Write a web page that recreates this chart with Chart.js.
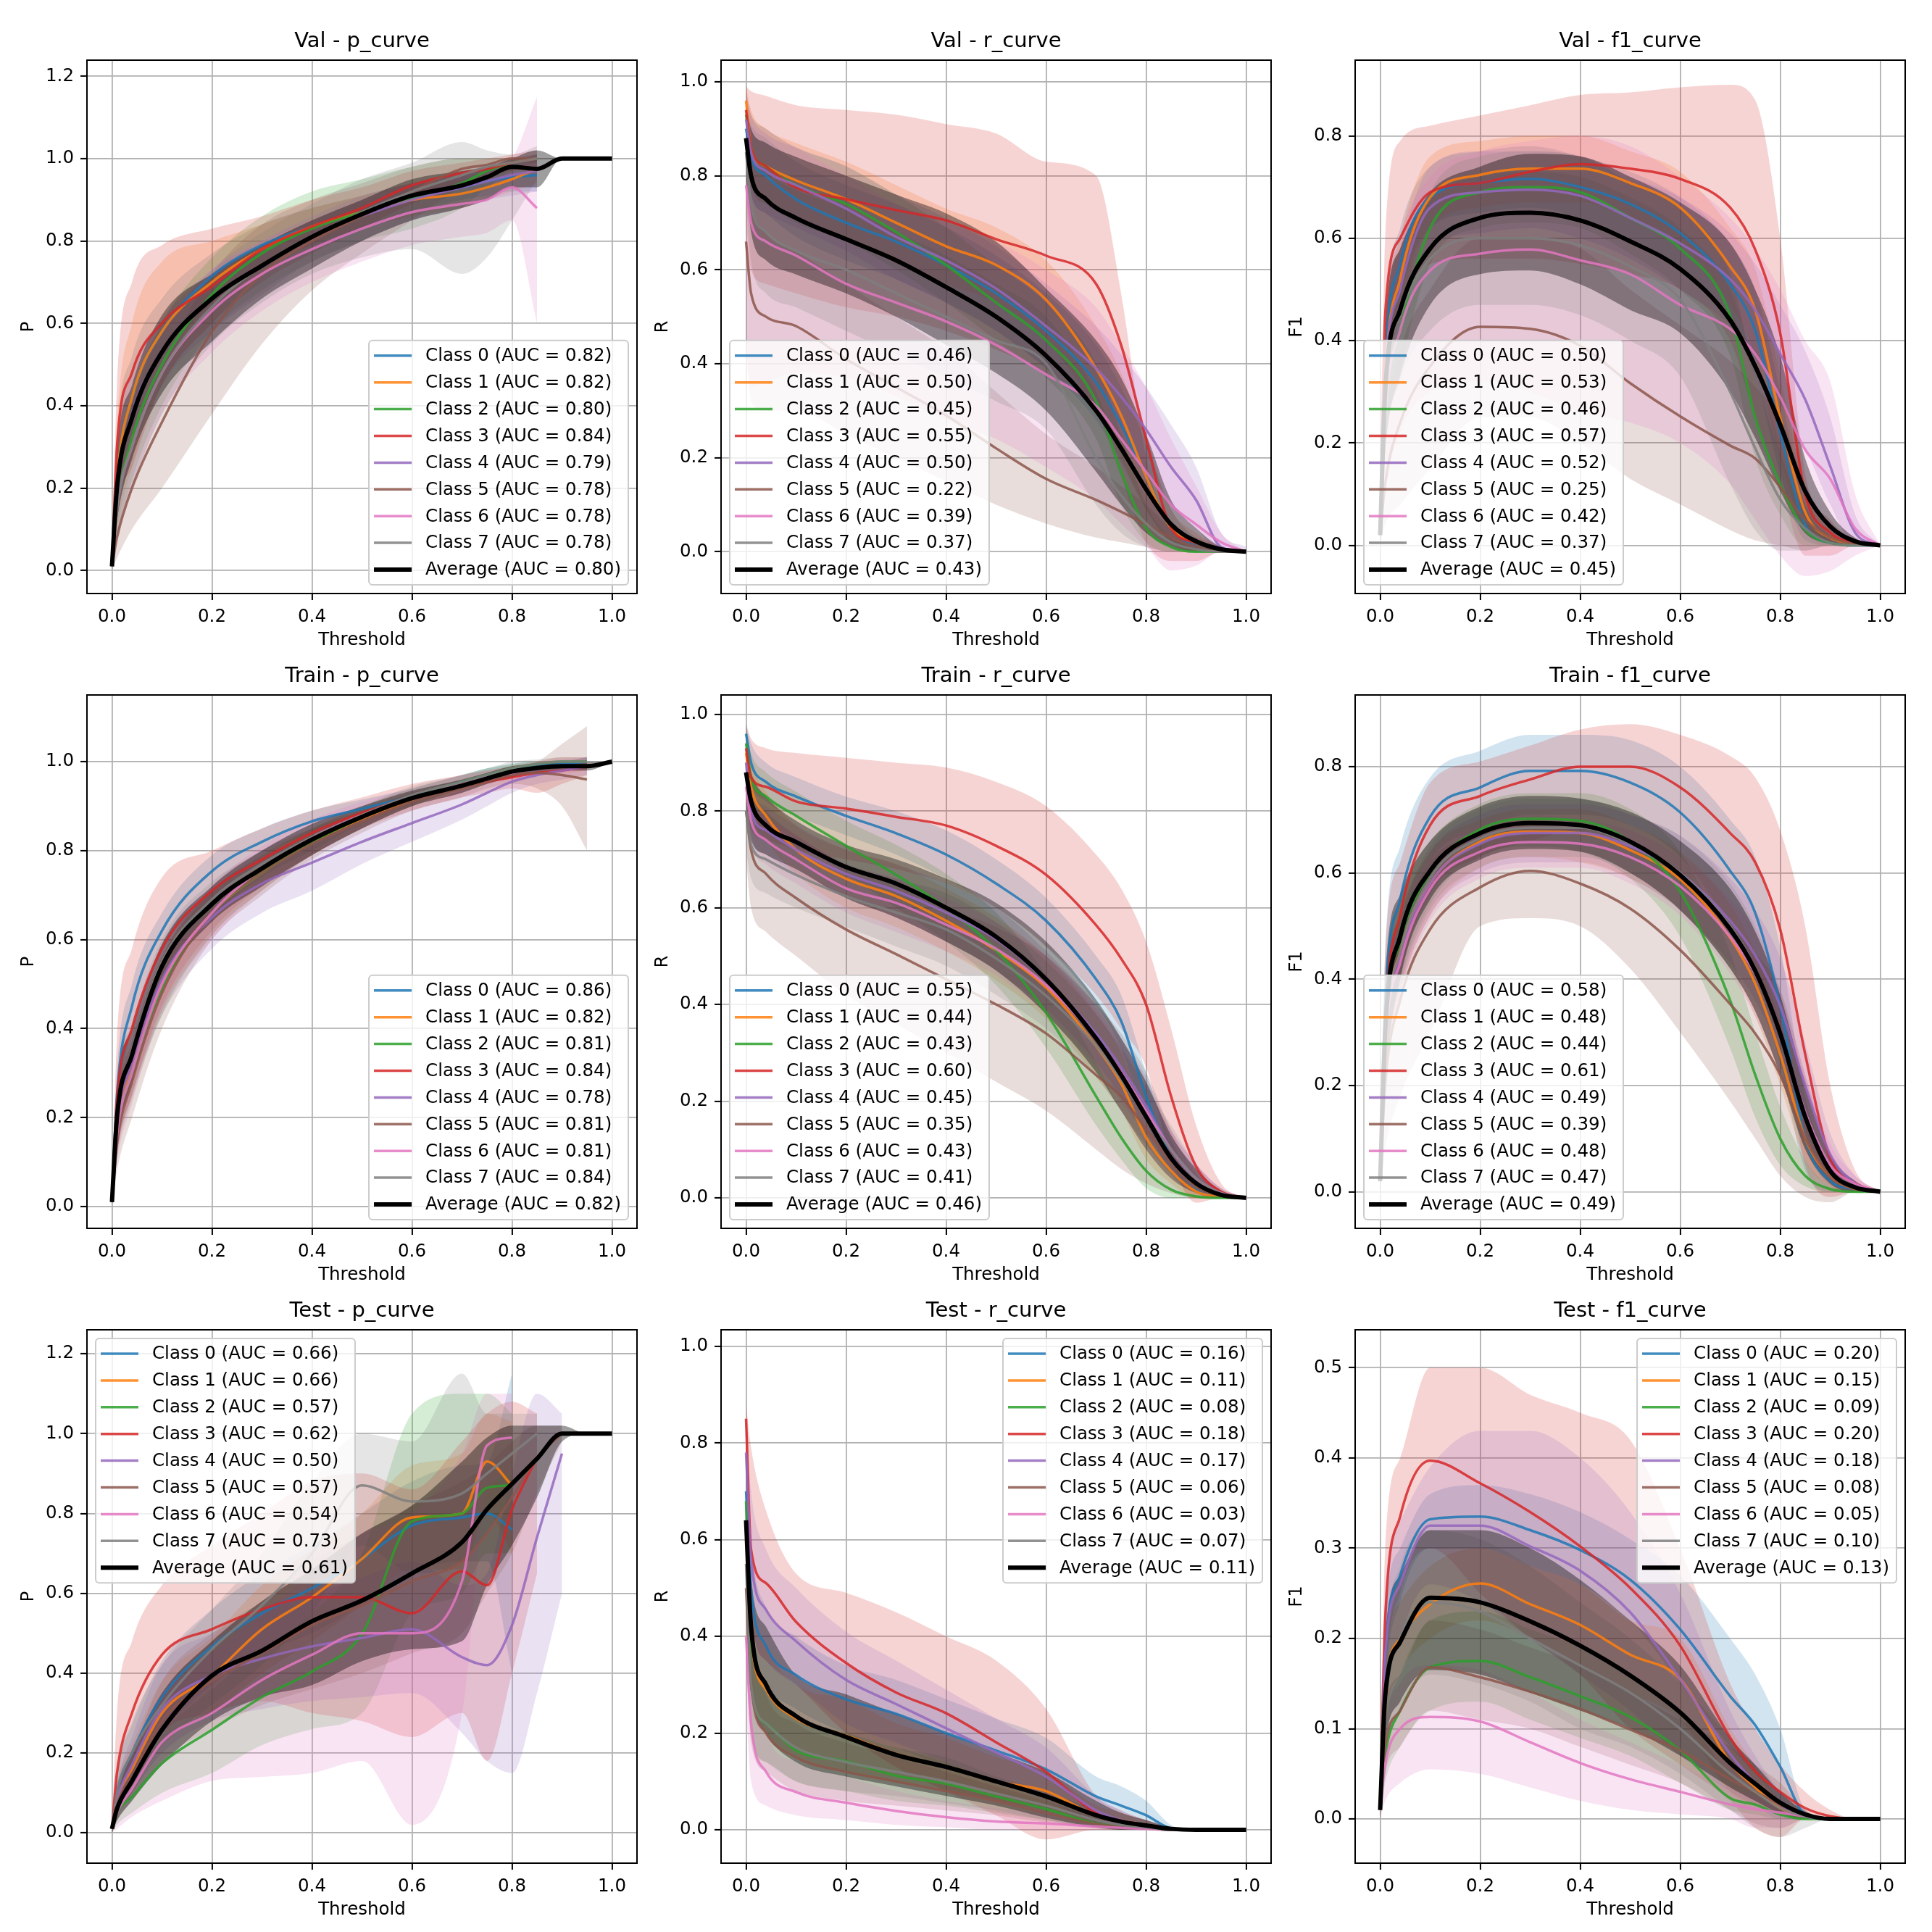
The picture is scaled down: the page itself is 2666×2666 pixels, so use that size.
<!DOCTYPE html>
<html><head><meta charset="utf-8">
<script src="https://cdn.jsdelivr.net/npm/chart.js@4.4.1/dist/chart.umd.min.js"></script>
<style>
html,body{margin:0;padding:0;background:#fff;}
#wrap{position:relative;width:2666px;height:2666px;background:#fff;overflow:hidden;}
canvas{position:absolute;}
</style></head><body><div id="wrap"></div>
<script>
// Threshold sample points shared by every curve
const X = [0,0.01,0.04,0.1,0.2,0.3,0.4,0.5,0.6,0.7,0.75,0.8,0.85,0.9,0.95,1.0];
const X_TICKS = [0,0.2,0.4,0.6,0.8,1.0];
const TICKS_P = [0,0.2,0.4,0.6,0.8,1.0,1.2];
const TICKS_P_TRAIN = [0,0.2,0.4,0.6,0.8,1.0];
const TICKS_R = [0,0.2,0.4,0.6,0.8,1.0];
const TICKS_F1 = [0,0.2,0.4,0.6,0.8];
const TICKS_F1_TEST = [0,0.1,0.2,0.3,0.4,0.5];
const SERIES = ['Class 0','Class 1','Class 2','Class 3','Class 4','Class 5','Class 6','Class 7','Average'];

// ---------- Val p_curve ----------
const valP_auc = [0.82,0.82,0.80,0.84,0.79,0.78,0.78,0.78,0.80];
const valP_mean = [
[0.01,0.22,0.42,0.58,0.715,0.79,0.835,0.87,0.905,0.93,0.945,0.955,0.96],
[0.01,0.22,0.42,0.58,0.70,0.78,0.835,0.87,0.90,0.915,0.93,0.95,0.975],
[0.01,0.15,0.32,0.5,0.67,0.77,0.83,0.87,0.905,0.94,0.97,0.99,1.0],
[0.01,0.3,0.48,0.6,0.69,0.78,0.835,0.88,0.935,0.965,0.975,0.99,1.0],
[0.01,0.2,0.38,0.53,0.66,0.74,0.81,0.86,0.9,0.93,0.945,0.96,0.97],
[0.01,0.08,0.2,0.36,0.58,0.72,0.8,0.86,0.92,0.975,0.985,1.0,1.0],
[0.01,0.15,0.3,0.48,0.63,0.72,0.78,0.83,0.87,0.89,0.9,0.93,0.88],
[0.01,0.15,0.3,0.48,0.64,0.74,0.81,0.87,0.92,0.96,0.98,0.99,1.0],
[0.01,0.2,0.37,0.53,0.66,0.74,0.81,0.865,0.91,0.935,0.955,0.98,0.975,1.0,1.0,1.0]];
const valP_lo = [
[0,0.12,0.32,0.5,0.65,0.74,0.79,0.83,0.87,0.9,0.91,0.92,0.92],
[0,0.1,0.25,0.45,0.6,0.72,0.79,0.83,0.86,0.88,0.9,0.92,0.94],
[0,0.08,0.22,0.4,0.58,0.68,0.75,0.8,0.83,0.88,0.93,0.97,0.99],
[0,0.15,0.25,0.45,0.6,0.7,0.77,0.83,0.89,0.93,0.95,0.97,0.98],
[0,0.12,0.28,0.45,0.58,0.67,0.75,0.8,0.85,0.88,0.9,0.91,0.92],
[0,0.03,0.1,0.2,0.38,0.55,0.68,0.77,0.85,0.93,0.96,0.99,0.99],
[0,0.08,0.2,0.38,0.53,0.63,0.7,0.75,0.79,0.81,0.82,0.85,0.6],
[0,0.08,0.2,0.38,0.55,0.65,0.72,0.76,0.78,0.72,0.76,0.85,0.95],
[0,0.12,0.27,0.43,0.556,0.66,0.733,0.8,0.85,0.88,0.9,0.93,0.93,1.0,1.0,1.0]];
const valP_hi = [
[0.02,0.32,0.52,0.66,0.77,0.84,0.88,0.91,0.94,0.96,0.97,0.99,1.0],
[0.02,0.35,0.6,0.75,0.8,0.84,0.88,0.91,0.94,0.95,0.96,0.98,1.0],
[0.02,0.22,0.42,0.6,0.76,0.86,0.92,0.95,0.98,1.0,1.0,1.0,1.01],
[0.03,0.45,0.7,0.79,0.83,0.86,0.9,0.93,0.97,0.99,1.0,1.01,1.02],
[0.02,0.28,0.48,0.61,0.73,0.8,0.86,0.91,0.94,0.97,0.98,1.0,1.01],
[0.02,0.15,0.32,0.5,0.72,0.84,0.9,0.94,0.98,1.0,1.0,1.0,1.01],
[0.02,0.22,0.4,0.58,0.73,0.8,0.85,0.9,0.94,0.96,0.97,1.0,1.15],
[0.02,0.22,0.4,0.58,0.73,0.82,0.89,0.95,0.99,1.04,1.02,1.01,1.03],
[0.02,0.28,0.45,0.62,0.72,0.79,0.85,0.9,0.95,0.97,0.98,1.0,1.02,1.0,1.0,1.0]];

// ---------- Val r_curve ----------
const valR_auc = [0.46,0.50,0.45,0.55,0.50,0.22,0.39,0.37,0.43];
const valR_mean = [
[0.9,0.84,0.8,0.75,0.7,0.66,0.61,0.55,0.47,0.36,0.27,0.16,0.05,0.01,0,0],
[0.96,0.86,0.82,0.79,0.75,0.7,0.65,0.61,0.536,0.39,0.29,0.16,0.05,0.02,0.005,0],
[0.93,0.86,0.82,0.78,0.74,0.68,0.61,0.53,0.45,0.32,0.17,0.05,0.01,0,0,0],
[0.94,0.86,0.82,0.775,0.75,0.727,0.705,0.665,0.63,0.57,0.44,0.24,0.05,0.02,0.005,0],
[0.92,0.85,0.81,0.78,0.73,0.67,0.62,0.56,0.48,0.39,0.33,0.26,0.18,0.11,0.01,0],
[0.66,0.55,0.5,0.48,0.41,0.35,0.29,0.22,0.155,0.11,0.085,0.058,0.03,0.01,0,0],
[0.78,0.7,0.66,0.63,0.57,0.53,0.49,0.44,0.377,0.31,0.24,0.17,0.1,0.058,0.02,0],
[0.85,0.74,0.68,0.64,0.6,0.55,0.5,0.45,0.4,0.2,0.12,0.06,0.02,0.005,0,0],
[0.88,0.8,0.75,0.71,0.665,0.62,0.563,0.5,0.417,0.3,0.22,0.133,0.058,0.022,0.005,0]];
const valR_lo = [
[0.84,0.76,0.72,0.67,0.62,0.58,0.53,0.47,0.39,0.28,0.19,0.09,0.02,0,0,0],
[0.9,0.78,0.74,0.71,0.67,0.62,0.57,0.53,0.45,0.3,0.2,0.09,0.02,0,0,0],
[0.87,0.78,0.74,0.7,0.66,0.6,0.53,0.45,0.37,0.24,0.1,0.02,0,0,0,0],
[0.7,0.6,0.57,0.55,0.52,0.5,0.47,0.43,0.38,0.3,0.16,0.02,-0.02,-0.02,0,0],
[0.85,0.76,0.72,0.69,0.64,0.58,0.53,0.47,0.39,0.3,0.24,0.17,0.1,0.05,0,0],
[0.45,0.32,0.3,0.3,0.25,0.2,0.15,0.1,0.06,0.03,0.02,0.01,0,0,0,0],
[0.4,0.35,0.36,0.38,0.37,0.33,0.28,0.24,0.18,0.11,0.06,0.01,-0.04,-0.03,0,0],
[0.75,0.62,0.55,0.52,0.47,0.42,0.37,0.32,0.26,0.1,0.04,0.01,0,0,0,0],
[0.8,0.68,0.62,0.59,0.55,0.5,0.44,0.38,0.3,0.17,0.1,0.04,0.01,0,0,0]];
const valR_hi = [
[0.95,0.91,0.88,0.83,0.78,0.74,0.69,0.63,0.55,0.44,0.35,0.23,0.09,0.03,0.01,0],
[0.99,0.94,0.9,0.87,0.83,0.78,0.73,0.69,0.62,0.48,0.38,0.24,0.09,0.04,0.01,0],
[0.97,0.93,0.9,0.86,0.82,0.76,0.69,0.61,0.53,0.4,0.25,0.1,0.03,0.01,0,0],
[0.99,0.98,0.97,0.95,0.94,0.93,0.91,0.89,0.83,0.8,0.55,0.2,0.05,0.03,0.01,0],
[0.98,0.93,0.89,0.86,0.82,0.76,0.71,0.65,0.57,0.48,0.42,0.35,0.27,0.18,0.04,0.01],
[0.85,0.75,0.68,0.64,0.57,0.5,0.43,0.34,0.25,0.18,0.14,0.1,0.05,0.02,0.01,0],
[0.98,0.93,0.9,0.86,0.8,0.74,0.7,0.66,0.6,0.52,0.44,0.35,0.24,0.14,0.04,0],
[0.93,0.86,0.81,0.77,0.73,0.68,0.63,0.57,0.5,0.34,0.21,0.12,0.05,0.02,0,0],
[0.95,0.9,0.87,0.84,0.8,0.76,0.72,0.66,0.56,0.45,0.37,0.25,0.11,0.05,0.01,0]];

// ---------- Val f1_curve ----------
const valF1_auc = [0.50,0.53,0.46,0.57,0.52,0.25,0.42,0.37,0.45];
const valF1_mean = [
[0.02,0.35,0.55,0.68,0.708,0.716,0.70,0.667,0.61,0.51,0.42,0.22,0.04,0.005,0,0],
[0.02,0.32,0.52,0.68,0.724,0.736,0.736,0.708,0.66,0.545,0.46,0.25,0.065,0.015,0.005,0],
[0.02,0.25,0.42,0.62,0.69,0.70,0.69,0.64,0.58,0.45,0.25,0.12,0.03,0.005,0,0],
[0.02,0.45,0.6,0.69,0.708,0.73,0.745,0.736,0.716,0.66,0.578,0.415,0.1,0.025,0.005,0],
[0.02,0.32,0.5,0.66,0.69,0.695,0.683,0.64,0.59,0.52,0.46,0.374,0.285,0.155,0.025,0],
[0.02,0.12,0.24,0.35,0.427,0.423,0.39,0.317,0.252,0.195,0.17,0.114,0.05,0.016,0.003,0],
[0.02,0.25,0.42,0.537,0.57,0.578,0.557,0.53,0.47,0.423,0.374,0.29,0.187,0.13,0.033,0],
[0.02,0.3,0.45,0.56,0.6,0.6,0.586,0.545,0.48,0.3,0.19,0.09,0.033,0.005,0,0],
[0.02,0.3,0.46,0.58,0.64,0.65,0.635,0.594,0.54,0.44,0.35,0.236,0.106,0.037,0.008,0]];
const valF1_lo = [
[0,0.28,0.48,0.62,0.65,0.66,0.64,0.6,0.54,0.43,0.33,0.14,0.01,0,0,0],
[0,0.25,0.45,0.62,0.66,0.67,0.67,0.64,0.59,0.47,0.37,0.17,0.03,0,0,0],
[0,0.18,0.34,0.55,0.62,0.63,0.62,0.57,0.5,0.37,0.17,0.06,0,0,0,0],
[0,0.3,0.45,0.55,0.56,0.56,0.55,0.53,0.5,0.4,0.25,0.12,-0.02,-0.02,0,0],
[0,0.24,0.42,0.58,0.61,0.62,0.6,0.56,0.5,0.43,0.37,0.28,0.19,0.08,0,0],
[0,0.04,0.08,0.15,0.25,0.25,0.2,0.13,0.08,0.03,0.01,0,-0.01,0,0,0],
[0,0.1,0.22,0.3,0.32,0.3,0.26,0.24,0.2,0.12,0.05,-0.02,-0.06,-0.05,-0.02,0],
[0,0.18,0.32,0.42,0.47,0.47,0.45,0.4,0.33,0.12,0.03,-0.01,-0.01,0,0,0],
[0,0.18,0.33,0.47,0.53,0.537,0.51,0.46,0.415,0.3,0.21,0.106,0.024,0.005,0,0]];
const valF1_hi = [
[0.04,0.42,0.62,0.74,0.77,0.78,0.76,0.73,0.68,0.59,0.5,0.3,0.08,0.02,0,0],
[0.04,0.4,0.6,0.76,0.79,0.8,0.8,0.77,0.73,0.62,0.54,0.33,0.11,0.03,0.01,0],
[0.04,0.32,0.5,0.69,0.76,0.77,0.76,0.71,0.66,0.53,0.33,0.18,0.06,0.01,0,0],
[0.05,0.6,0.79,0.82,0.84,0.86,0.88,0.885,0.895,0.9,0.87,0.6,0.14,0.05,0.01,0],
[0.04,0.4,0.58,0.74,0.77,0.77,0.76,0.72,0.68,0.61,0.55,0.47,0.38,0.25,0.06,0],
[0.04,0.22,0.38,0.5,0.6,0.6,0.58,0.5,0.43,0.36,0.31,0.25,0.12,0.04,0.01,0],
[0.04,0.4,0.6,0.72,0.77,0.79,0.8,0.78,0.72,0.64,0.58,0.5,0.4,0.32,0.1,0],
[0.04,0.42,0.58,0.68,0.72,0.73,0.72,0.68,0.62,0.5,0.35,0.2,0.08,0.02,0,0],
[0.04,0.42,0.58,0.69,0.74,0.765,0.76,0.72,0.67,0.59,0.5,0.37,0.17,0.065,0.015,0]];

// ---------- Train p_curve ----------
const trainP_auc = [0.86,0.82,0.81,0.84,0.78,0.81,0.81,0.84,0.82];
const trainP_mean = [
[0.01,0.25,0.45,0.62,0.754,0.82,0.866,0.894,0.922,0.955,0.97,0.983,0.99,0.995,1.0],
[0.01,0.17,0.31,0.5,0.66,0.75,0.82,0.872,0.915,0.947,0.962,0.978,0.986,0.99,0.99],
[0.01,0.16,0.3,0.49,0.66,0.75,0.82,0.874,0.92,0.955,0.97,0.985,0.995,1.0,1.0],
[0.01,0.24,0.4,0.58,0.71,0.78,0.84,0.885,0.92,0.945,0.955,0.965,0.975,0.98,0.99],
[0.01,0.18,0.32,0.51,0.65,0.726,0.773,0.82,0.862,0.904,0.93,0.955,0.97,0.98,0.99],
[0.01,0.14,0.28,0.48,0.66,0.75,0.815,0.865,0.91,0.94,0.955,0.97,0.975,0.97,0.96],
[0.01,0.16,0.3,0.5,0.66,0.76,0.83,0.88,0.92,0.95,0.965,0.975,0.985,0.99,0.99],
[0.01,0.2,0.35,0.55,0.69,0.77,0.83,0.88,0.925,0.955,0.97,0.985,0.995,1.0,1.0],
[0.01,0.2,0.34,0.54,0.68,0.76,0.825,0.876,0.918,0.946,0.962,0.978,0.986,0.99,0.99,1.0]];
const trainP_lo = [
[0,0.2,0.4,0.58,0.72,0.79,0.84,0.87,0.9,0.94,0.955,0.97,0.98,0.985,0.99],
[0,0.12,0.25,0.44,0.61,0.71,0.79,0.85,0.9,0.93,0.95,0.965,0.975,0.975,0.98],
[0,0.11,0.24,0.43,0.61,0.71,0.79,0.85,0.9,0.94,0.955,0.975,0.985,0.99,0.99],
[0,0.12,0.25,0.45,0.62,0.72,0.79,0.85,0.89,0.92,0.93,0.94,0.93,0.95,0.97],
[0,0.12,0.25,0.43,0.58,0.66,0.71,0.77,0.82,0.87,0.9,0.93,0.95,0.96,0.97],
[0,0.08,0.2,0.4,0.6,0.7,0.78,0.84,0.89,0.92,0.94,0.95,0.94,0.9,0.8],
[0,0.1,0.23,0.44,0.6,0.71,0.79,0.85,0.9,0.93,0.95,0.96,0.97,0.975,0.98],
[0,0.14,0.29,0.5,0.65,0.74,0.8,0.86,0.905,0.94,0.955,0.97,0.98,0.985,0.985],
[0,0.14,0.28,0.49,0.64,0.72,0.79,0.85,0.9,0.93,0.95,0.965,0.975,0.98,0.98,1.0]];
const trainP_hi = [
[0.02,0.3,0.5,0.66,0.79,0.85,0.89,0.915,0.94,0.97,0.985,0.995,1.0,1.0,1.01],
[0.02,0.22,0.37,0.56,0.71,0.79,0.85,0.895,0.93,0.96,0.975,0.99,0.995,1.0,1.0],
[0.02,0.21,0.36,0.55,0.71,0.79,0.85,0.9,0.94,0.97,0.985,0.995,1.0,1.0,1.01],
[0.03,0.38,0.58,0.74,0.8,0.85,0.89,0.92,0.95,0.97,0.98,0.99,1.0,1.01,1.01],
[0.02,0.24,0.39,0.59,0.72,0.79,0.83,0.87,0.9,0.935,0.955,0.975,0.99,1.0,1.01],
[0.02,0.2,0.36,0.56,0.72,0.8,0.85,0.89,0.93,0.96,0.97,0.985,1.0,1.04,1.08],
[0.02,0.22,0.37,0.56,0.72,0.81,0.87,0.91,0.94,0.97,0.98,0.99,1.0,1.005,1.01],
[0.02,0.26,0.41,0.6,0.73,0.8,0.86,0.9,0.945,0.97,0.985,1.0,1.005,1.01,1.01],
[0.02,0.26,0.4,0.59,0.72,0.8,0.86,0.9,0.935,0.96,0.975,0.99,0.995,1.0,1.0,1.0]];

// ---------- Train r_curve ----------
const trainR_auc = [0.55,0.44,0.43,0.60,0.45,0.35,0.43,0.41,0.46];
const trainR_mean = [
[0.96,0.9,0.86,0.83,0.79,0.754,0.71,0.65,0.573,0.452,0.366,0.21,0.082,0.02,0.005,0],
[0.92,0.85,0.79,0.72,0.66,0.624,0.573,0.512,0.435,0.314,0.237,0.125,0.056,0.013,0.003,0],
[0.94,0.87,0.83,0.79,0.728,0.668,0.6,0.512,0.383,0.21,0.125,0.056,0.017,0.003,0,0],
[0.93,0.87,0.85,0.82,0.805,0.788,0.77,0.728,0.668,0.564,0.495,0.4,0.21,0.065,0.013,0],
[0.9,0.8,0.76,0.72,0.67,0.635,0.59,0.535,0.45,0.34,0.27,0.19,0.1,0.04,0.01,0],
[0.8,0.72,0.67,0.62,0.555,0.504,0.452,0.4,0.34,0.254,0.21,0.142,0.073,0.022,0.005,0],
[0.85,0.78,0.74,0.7,0.64,0.61,0.565,0.515,0.44,0.33,0.26,0.18,0.1,0.04,0.01,0],
[0.8,0.73,0.7,0.668,0.624,0.59,0.555,0.495,0.418,0.314,0.245,0.168,0.1,0.04,0.01,0],
[0.88,0.82,0.77,0.736,0.684,0.65,0.6,0.54,0.452,0.33,0.254,0.168,0.082,0.03,0.006,0]];
const trainR_lo = [
[0.92,0.86,0.82,0.79,0.75,0.71,0.66,0.6,0.52,0.4,0.31,0.16,0.05,0.01,0,0],
[0.88,0.8,0.74,0.67,0.6,0.56,0.51,0.45,0.37,0.25,0.18,0.08,0.03,0,0,0],
[0.9,0.82,0.78,0.74,0.67,0.6,0.53,0.44,0.31,0.15,0.08,0.02,0,0,0,0],
[0.85,0.76,0.74,0.72,0.7,0.68,0.65,0.6,0.52,0.42,0.35,0.27,0.08,-0.01,0,0],
[0.85,0.75,0.71,0.67,0.62,0.58,0.53,0.47,0.39,0.28,0.21,0.13,0.06,0.02,0,0],
[0.7,0.6,0.55,0.5,0.42,0.36,0.3,0.24,0.18,0.1,0.06,0.03,0.01,0,0,0],
[0.8,0.73,0.69,0.65,0.59,0.55,0.51,0.46,0.38,0.27,0.2,0.13,0.06,0.02,0,0],
[0.72,0.66,0.63,0.6,0.56,0.52,0.48,0.42,0.35,0.25,0.18,0.11,0.05,0.02,0,0],
[0.8,0.74,0.71,0.68,0.62,0.58,0.53,0.47,0.38,0.26,0.18,0.1,0.04,0.01,0,0]];
const trainR_hi = [
[0.98,0.94,0.9,0.87,0.83,0.8,0.76,0.7,0.62,0.5,0.42,0.26,0.12,0.04,0.01,0],
[0.95,0.9,0.84,0.77,0.72,0.69,0.64,0.58,0.5,0.38,0.3,0.17,0.08,0.03,0.01,0],
[0.97,0.92,0.88,0.84,0.78,0.73,0.67,0.59,0.46,0.28,0.18,0.1,0.04,0.01,0,0],
[0.98,0.95,0.93,0.92,0.91,0.9,0.89,0.86,0.81,0.71,0.64,0.53,0.35,0.15,0.03,0],
[0.95,0.85,0.81,0.77,0.72,0.69,0.65,0.6,0.51,0.4,0.33,0.25,0.14,0.07,0.02,0],
[0.9,0.84,0.8,0.75,0.69,0.65,0.6,0.56,0.5,0.4,0.34,0.26,0.14,0.05,0.01,0],
[0.9,0.83,0.79,0.75,0.69,0.66,0.62,0.57,0.5,0.39,0.32,0.23,0.14,0.07,0.02,0],
[0.88,0.8,0.77,0.73,0.69,0.66,0.63,0.57,0.49,0.38,0.31,0.23,0.15,0.07,0.02,0],
[0.93,0.88,0.83,0.78,0.73,0.7,0.66,0.61,0.53,0.41,0.33,0.24,0.13,0.06,0.015,0]];

// ---------- Train f1_curve ----------
const trainF1_auc = [0.58,0.48,0.44,0.61,0.49,0.39,0.48,0.47,0.49];
const trainF1_mean = [
[0.02,0.35,0.55,0.706,0.761,0.792,0.792,0.77,0.714,0.604,0.525,0.35,0.1,0.02,0.005,0],
[0.02,0.28,0.45,0.58,0.659,0.678,0.675,0.643,0.588,0.478,0.392,0.259,0.1,0.03,0.005,0],
[0.02,0.3,0.47,0.6,0.682,0.702,0.698,0.659,0.565,0.36,0.22,0.1,0.03,0.005,0,0],
[0.02,0.32,0.52,0.69,0.745,0.776,0.8,0.8,0.761,0.675,0.62,0.494,0.259,0.063,0.016,0],
[0.02,0.27,0.44,0.58,0.655,0.675,0.675,0.65,0.6,0.51,0.445,0.35,0.2,0.07,0.015,0],
[0.02,0.2,0.36,0.494,0.573,0.604,0.58,0.533,0.455,0.353,0.298,0.22,0.1,0.03,0.005,0],
[0.02,0.27,0.43,0.57,0.64,0.658,0.655,0.63,0.575,0.48,0.41,0.3,0.15,0.05,0.015,0],
[0.02,0.28,0.45,0.59,0.665,0.685,0.685,0.655,0.6,0.5,0.42,0.3,0.14,0.04,0.01,0],
[0.02,0.3,0.48,0.604,0.675,0.694,0.69,0.659,0.596,0.494,0.416,0.298,0.141,0.039,0.008,0]];
const trainF1_lo = [
[0,0.26,0.45,0.62,0.68,0.71,0.71,0.69,0.63,0.5,0.41,0.24,0.04,0,0,0],
[0,0.2,0.37,0.52,0.61,0.63,0.62,0.59,0.53,0.42,0.33,0.2,0.06,0.01,0,0],
[0,0.22,0.39,0.54,0.63,0.65,0.64,0.59,0.48,0.27,0.14,0.05,0.01,0,0,0],
[0,0.2,0.4,0.56,0.63,0.66,0.68,0.66,0.6,0.5,0.42,0.3,0.05,-0.01,0,0],
[0,0.2,0.37,0.52,0.6,0.62,0.62,0.59,0.53,0.43,0.36,0.26,0.12,0.03,0,0],
[0,0.08,0.18,0.3,0.5,0.515,0.5,0.42,0.3,0.17,0.1,0.03,-0.01,-0.02,0,0],
[0,0.2,0.36,0.51,0.59,0.61,0.61,0.58,0.52,0.41,0.33,0.22,0.09,0.02,0,0],
[0,0.2,0.38,0.53,0.61,0.63,0.63,0.6,0.53,0.42,0.34,0.22,0.08,0.01,0,0],
[0,0.2,0.4,0.55,0.625,0.645,0.64,0.6,0.53,0.42,0.34,0.22,0.08,0.015,0,0]];
const trainF1_hi = [
[0.04,0.45,0.65,0.78,0.83,0.86,0.86,0.85,0.8,0.7,0.63,0.46,0.18,0.05,0.01,0],
[0.04,0.35,0.52,0.64,0.7,0.72,0.72,0.69,0.64,0.54,0.45,0.32,0.15,0.05,0.01,0],
[0.04,0.38,0.55,0.66,0.73,0.75,0.75,0.72,0.64,0.45,0.3,0.16,0.06,0.01,0,0],
[0.04,0.45,0.62,0.77,0.81,0.84,0.87,0.88,0.86,0.82,0.78,0.68,0.5,0.2,0.04,0],
[0.04,0.34,0.51,0.64,0.71,0.73,0.73,0.71,0.67,0.59,0.53,0.44,0.28,0.11,0.03,0],
[0.04,0.3,0.48,0.62,0.67,0.7,0.69,0.65,0.59,0.5,0.45,0.38,0.22,0.07,0.01,0],
[0.04,0.34,0.5,0.63,0.69,0.71,0.7,0.68,0.63,0.55,0.49,0.38,0.22,0.09,0.03,0],
[0.04,0.36,0.52,0.65,0.72,0.74,0.74,0.71,0.67,0.58,0.5,0.38,0.2,0.07,0.02,0],
[0.04,0.4,0.56,0.66,0.725,0.745,0.74,0.715,0.66,0.57,0.49,0.37,0.2,0.07,0.02,0]];

// ---------- Test p_curve ----------
const testP_auc = [0.66,0.66,0.57,0.62,0.50,0.57,0.54,0.73,0.61];
const testP_mean = [
[0.01,0.1,0.2,0.34,0.467,0.55,0.613,0.686,0.77,0.79,0.8,0.76],
[0.01,0.08,0.16,0.3,0.394,0.51,0.59,0.686,0.79,0.8,0.93,0.87],
[0.01,0.05,0.09,0.174,0.258,0.34,0.404,0.498,0.78,0.8,0.864,0.87],
[0.01,0.15,0.3,0.446,0.51,0.56,0.59,0.59,0.55,0.655,0.62,0.81,0.94],
[0.01,0.08,0.17,0.31,0.394,0.436,0.467,0.488,0.51,0.44,0.42,0.52,0.74,0.95],
[0.01,0.07,0.14,0.28,0.38,0.45,0.52,0.57,0.63,0.68,0.75,0.84,0.94,1.0],
[0.01,0.05,0.11,0.227,0.3,0.383,0.446,0.5,0.5,0.63,0.97,0.99],
[0.01,0.1,0.2,0.32,0.46,0.57,0.7,0.87,0.83,0.85,0.9,0.95,1.0],
[0.01,0.06,0.13,0.258,0.394,0.456,0.53,0.582,0.65,0.728,0.81,0.874,0.937,1.0,1.0,1.0]];
const testP_lo = [
[0,0.05,0.13,0.25,0.37,0.45,0.5,0.57,0.65,0.68,0.68,0.4],
[0,0.04,0.1,0.22,0.3,0.4,0.48,0.57,0.66,0.66,0.8,0.7],
[0,0.02,0.05,0.1,0.15,0.22,0.26,0.3,0.55,0.6,0.7,0.7],
[0,0.05,0.12,0.25,0.3,0.33,0.3,0.28,0.24,0.3,0.18,0.4,0.65],
[0,0.04,0.1,0.2,0.28,0.31,0.33,0.34,0.35,0.25,0.18,0.15,0.35,0.6],
[0,0.03,0.08,0.18,0.26,0.32,0.36,0.4,0.45,0.5,0.6,0.7,0.85,0.98],
[0,0.01,0.04,0.08,0.13,0.14,0.15,0.18,0.02,0.3,0.85,0.9],
[0,0.05,0.12,0.22,0.32,0.42,0.55,0.72,0.65,0.68,0.75,0.85,0.95],
[0,0.03,0.08,0.17,0.28,0.34,0.37,0.43,0.46,0.48,0.62,0.72,0.84,0.98,1.0,1.0]];
const testP_hi = [
[0.02,0.15,0.27,0.43,0.56,0.65,0.72,0.8,0.88,0.92,0.93,1.15],
[0.02,0.12,0.22,0.38,0.49,0.62,0.71,0.8,0.92,0.95,1.05,1.03],
[0.02,0.08,0.14,0.25,0.36,0.46,0.55,0.7,1.05,1.1,1.1,1.05],
[0.02,0.3,0.48,0.62,0.72,0.8,0.88,0.9,0.86,0.98,1.05,1.08,1.05],
[0.02,0.12,0.24,0.42,0.5,0.56,0.6,0.64,0.68,0.62,0.65,0.9,1.1,1.05],
[0.02,0.11,0.2,0.38,0.5,0.58,0.68,0.75,0.82,0.88,0.92,0.98,1.02,1.02],
[0.02,0.1,0.2,0.35,0.45,0.55,0.65,0.75,0.8,0.95,1.1,1.1],
[0.02,0.15,0.28,0.42,0.56,0.7,0.88,1.0,0.98,1.15,1.05,1.05,1.05],
[0.02,0.1,0.2,0.35,0.48,0.58,0.66,0.75,0.82,0.93,0.99,1.02,1.02,1.02,1.0,1.0]];

// ---------- Test r_curve ----------
const testR_auc = [0.16,0.11,0.08,0.18,0.17,0.06,0.03,0.07,0.11];
const testR_mean = [
[0.7,0.5,0.38,0.32,0.27,0.24,0.2,0.164,0.125,0.069,0.05,0.03,0.003,0,0,0],
[0.62,0.4,0.29,0.23,0.195,0.157,0.13,0.1,0.08,0.03,0.02,0.01,0.003,0,0,0],
[0.68,0.3,0.22,0.164,0.142,0.112,0.095,0.069,0.043,0.013,0.006,0.003,0,0,0,0],
[0.85,0.58,0.51,0.43,0.345,0.284,0.241,0.181,0.12,0.034,0.018,0.008,0.002,0,0,0],
[0.78,0.56,0.455,0.39,0.31,0.26,0.21,0.16,0.11,0.04,0.02,0.01,0.002,0,0,0],
[0.5,0.3,0.2,0.15,0.12,0.1,0.08,0.06,0.035,0.012,0.006,0.003,0,0,0,0],
[0.4,0.22,0.12,0.078,0.056,0.039,0.026,0.017,0.013,0.007,0.004,0.002,0,0,0,0],
[0.55,0.3,0.22,0.17,0.14,0.12,0.1,0.075,0.05,0.02,0.01,0.005,0,0,0,0],
[0.64,0.42,0.3,0.235,0.192,0.155,0.13,0.1,0.069,0.03,0.017,0.009,0.002,0,0,0]];
const testR_lo = [
[0.6,0.4,0.3,0.25,0.2,0.17,0.13,0.1,0.07,0.03,0.02,0.01,0,0,0,0],
[0.5,0.3,0.2,0.15,0.12,0.1,0.08,0.06,0.04,0.01,0.005,0,0,0,0,0],
[0.55,0.2,0.14,0.1,0.08,0.06,0.05,0.035,0.02,0.003,0,0,0,0,0,0],
[0.8,0.45,0.35,0.3,0.2,0.13,0.08,0.03,-0.02,0,0,0,0,0,0,0],
[0.7,0.45,0.35,0.3,0.22,0.18,0.14,0.1,0.06,0.015,0.005,0,0,0,0,0],
[0.35,0.18,0.12,0.08,0.06,0.05,0.04,0.03,0.015,0.004,0,0,0,0,0,0],
[0.25,0.1,0.05,0.03,0.02,0.01,0.005,0,0,0,0,0,0,0,0,0],
[0.4,0.2,0.14,0.1,0.08,0.07,0.055,0.04,0.02,0.005,0,0,0,0,0,0],
[0.5,0.3,0.2,0.14,0.11,0.09,0.07,0.05,0.025,0.005,0,0,0,0,0,0]];
const testR_hi = [
[0.8,0.6,0.46,0.4,0.34,0.31,0.27,0.23,0.19,0.11,0.09,0.06,0.01,0,0,0],
[0.72,0.5,0.38,0.3,0.27,0.22,0.19,0.15,0.12,0.05,0.035,0.02,0.005,0,0,0],
[0.8,0.4,0.3,0.23,0.2,0.17,0.14,0.1,0.07,0.025,0.012,0.006,0,0,0,0],
[0.88,0.79,0.66,0.53,0.49,0.45,0.4,0.35,0.25,0.07,0.04,0.02,0.005,0,0,0],
[0.85,0.7,0.58,0.5,0.41,0.35,0.29,0.23,0.17,0.07,0.04,0.02,0.005,0,0,0],
[0.65,0.42,0.28,0.22,0.18,0.15,0.12,0.09,0.06,0.025,0.012,0.006,0,0,0,0],
[0.55,0.35,0.2,0.14,0.11,0.08,0.06,0.045,0.035,0.018,0.01,0.005,0,0,0,0],
[0.7,0.42,0.3,0.24,0.2,0.17,0.15,0.11,0.08,0.04,0.02,0.01,0,0,0,0],
[0.75,0.52,0.42,0.32,0.28,0.24,0.2,0.16,0.12,0.06,0.035,0.02,0.005,0,0,0]];

// ---------- Test f1_curve ----------
const testF1_auc = [0.20,0.15,0.09,0.20,0.18,0.08,0.05,0.10,0.13];
const testF1_mean = [
[0.01,0.18,0.27,0.332,0.335,0.32,0.298,0.265,0.21,0.136,0.104,0.058,0.005,0,0,0],
[0.01,0.14,0.2,0.238,0.261,0.238,0.215,0.182,0.155,0.062,0.035,0.012,0.003,0,0,0],
[0.01,0.07,0.12,0.168,0.175,0.157,0.136,0.113,0.076,0.023,0.016,0.005,0,0,0,0],
[0.01,0.22,0.335,0.397,0.372,0.34,0.302,0.256,0.192,0.09,0.053,0.03,0.012,0.003,0,0],
[0.01,0.18,0.26,0.325,0.325,0.302,0.275,0.229,0.155,0.072,0.04,0.016,0.003,0,0,0],
[0.01,0.08,0.12,0.168,0.157,0.141,0.122,0.099,0.076,0.044,0.03,0.016,0.005,0,0,0],
[0.01,0.06,0.1,0.113,0.108,0.085,0.062,0.044,0.03,0.016,0.011,0.007,0.003,0,0,0],
[0.01,0.12,0.2,0.24,0.23,0.2,0.17,0.14,0.1,0.05,0.03,0.012,0.003,0,0,0],
[0.01,0.136,0.196,0.245,0.24,0.219,0.192,0.159,0.118,0.062,0.039,0.018,0.005,0,0,0]];
const testF1_lo = [
[0,0.14,0.24,0.3,0.3,0.28,0.26,0.22,0.15,0.08,0.05,0.02,0,0,0,0],
[0,0.1,0.16,0.2,0.22,0.2,0.17,0.14,0.11,0.03,0.015,0.005,0,0,0,0],
[0,0.04,0.08,0.12,0.13,0.11,0.09,0.07,0.04,0.01,0.005,0,0,0,0,0],
[0,0.15,0.25,0.3,0.25,0.2,0.16,0.1,0.06,0.02,-0.01,-0.02,0,0,0,0],
[0,0.12,0.2,0.26,0.24,0.2,0.16,0.12,0.07,0.03,0.015,0,0,0,0,0],
[0,0.05,0.08,0.12,0.11,0.1,0.08,0.06,0.04,0.01,-0.005,-0.01,0,0,0,0],
[0,0.02,0.04,0.055,0.05,0.035,0.02,0.01,0.005,0,-0.01,-0.01,0,0,0,0],
[0,0.06,0.12,0.16,0.15,0.13,0.1,0.08,0.05,0.01,-0.01,-0.02,-0.01,0,0,0],
[0,0.08,0.13,0.165,0.16,0.14,0.12,0.1,0.07,0.035,0.02,0.006,0,0,0,0]];
const testF1_hi = [
[0.02,0.22,0.3,0.36,0.37,0.36,0.34,0.31,0.27,0.2,0.16,0.1,0.01,0,0,0],
[0.02,0.18,0.24,0.28,0.3,0.28,0.26,0.22,0.2,0.1,0.06,0.02,0.006,0,0,0],
[0.02,0.1,0.16,0.22,0.23,0.21,0.19,0.16,0.12,0.05,0.03,0.01,0,0,0,0],
[0.02,0.3,0.4,0.5,0.5,0.47,0.45,0.42,0.3,0.15,0.1,0.06,0.03,0.01,0,0],
[0.02,0.25,0.33,0.39,0.43,0.43,0.4,0.34,0.25,0.12,0.07,0.03,0.008,0,0,0],
[0.02,0.12,0.16,0.22,0.21,0.19,0.17,0.14,0.11,0.08,0.06,0.04,0.01,0,0,0],
[0.02,0.1,0.15,0.17,0.165,0.14,0.11,0.085,0.06,0.035,0.025,0.015,0.006,0,0,0],
[0.02,0.18,0.28,0.32,0.31,0.28,0.24,0.2,0.15,0.09,0.06,0.03,0.01,0,0,0],
[0.02,0.2,0.27,0.32,0.32,0.3,0.265,0.22,0.17,0.09,0.06,0.03,0.008,0,0,0]];

// ---------- layout ----------
const COL_LEFT = [120, 995, 1870];
const ROW_TOP = [83, 959, 1835];
const PLOT_W = 759, PLOT_H = 736;
const PAD_L = 95, PAD_T = 50, PAD_R = 20, PAD_B = 79;
const COLORS = ['31,119,180','255,127,14','44,160,44','214,39,40','148,103,189','140,86,75','227,119,194','127,127,127','0,0,0'];
const FONT = "'DejaVu Sans', 'Liberation Sans', sans-serif";

const PANELS = [
 {title:'Val - p_curve', yl:'P', m:valP_mean, lo:valP_lo, hi:valP_hi, auc:valP_auc, yr:[-0.056,1.239], yt:TICKS_P, leg:'lr', r:0, c:0},
 {title:'Val - r_curve', yl:'R', m:valR_mean, lo:valR_lo, hi:valR_hi, auc:valR_auc, yr:[-0.089,1.046], yt:TICKS_R, leg:'ll', r:0, c:1},
 {title:'Val - f1_curve', yl:'F1', m:valF1_mean, lo:valF1_lo, hi:valF1_hi, auc:valF1_auc, yr:[-0.094,0.948], yt:TICKS_F1, leg:'ll', r:0, c:2},
 {title:'Train - p_curve', yl:'P', m:trainP_mean, lo:trainP_lo, hi:trainP_hi, auc:trainP_auc, yr:[-0.049,1.150], yt:TICKS_P_TRAIN, leg:'lr', r:1, c:0},
 {title:'Train - r_curve', yl:'R', m:trainR_mean, lo:trainR_lo, hi:trainR_hi, auc:trainR_auc, yr:[-0.063,1.040], yt:TICKS_R, leg:'ll', r:1, c:1},
 {title:'Train - f1_curve', yl:'F1', m:trainF1_mean, lo:trainF1_lo, hi:trainF1_hi, auc:trainF1_auc, yr:[-0.069,0.935], yt:TICKS_F1, leg:'ll', r:1, c:2},
 {title:'Test - p_curve', yl:'P', m:testP_mean, lo:testP_lo, hi:testP_hi, auc:testP_auc, yr:[-0.076,1.26], yt:TICKS_P, leg:'ul', r:2, c:0},
 {title:'Test - r_curve', yl:'R', m:testR_mean, lo:testR_lo, hi:testR_hi, auc:testR_auc, yr:[-0.069,1.034], yt:TICKS_R, leg:'ur', r:2, c:1},
 {title:'Test - f1_curve', yl:'F1', m:testF1_mean, lo:testF1_lo, hi:testF1_hi, auc:testF1_auc, yr:[-0.049,0.542], yt:TICKS_F1_TEST, leg:'ur', r:2, c:2}
];

function pts(arr){ return X.map((x,i)=>({x:x, y:(arr[i]===undefined ? null : arr[i])})); }

const decor = {
  id:'decor',
  afterDatasetsDraw(chart){
    const a = chart.chartArea, ctx = chart.ctx;
    ctx.save(); ctx.strokeStyle = '#000'; ctx.lineWidth = 2;
    ctx.strokeRect(a.left, a.top, a.right-a.left, a.bottom-a.top);
    ctx.restore();
  },
  afterDraw(chart){
    const o = chart.options.plugins.decor, a = chart.chartArea, ctx = chart.ctx;
    ctx.save();
    ctx.fillStyle = '#000'; ctx.font = '29px ' + FONT;
    ctx.textAlign = 'center'; ctx.textBaseline = 'middle';
    ctx.fillText(o.title, (a.left+a.right)/2, a.top - 26);
    // legend
    const items = chart.data.datasets.filter(d => d.isLine);
    ctx.font = '24.5px ' + FONT;
    let tw = 0; items.forEach(d => { tw = Math.max(tw, ctx.measureText(d.label).width); });
    const w = 78 + tw + 10, rowH = 36.9, h = 21*2 + rowH*(items.length-1);
    const x0 = (o.leg === 'lr' || o.leg === 'ur') ? a.right - 12 - w : a.left + 12;
    const y0 = (o.leg === 'lr' || o.leg === 'll') ? a.bottom - 12 - h : a.top + 12;
    ctx.beginPath();
    if (ctx.roundRect) ctx.roundRect(x0, y0, w, h, 5); else ctx.rect(x0, y0, w, h);
    ctx.fillStyle = 'rgba(255,255,255,0.8)'; ctx.fill();
    ctx.strokeStyle = '#cccccc'; ctx.lineWidth = 2; ctx.stroke();
    items.forEach((d, k) => {
      const cy = y0 + 21 + k*rowH;
      ctx.beginPath(); ctx.moveTo(x0+7, cy); ctx.lineTo(x0+59, cy);
      ctx.strokeStyle = d.borderColor; ctx.lineWidth = d.borderWidth; ctx.lineCap = 'butt'; ctx.stroke();
      ctx.fillStyle = '#000'; ctx.textAlign = 'left'; ctx.textBaseline = 'middle';
      ctx.fillText(d.label, x0 + 78, cy + 1);
    });
    ctx.restore();
  }
};

const wrap = document.getElementById('wrap');
PANELS.forEach(p => {
  const cv = document.createElement('canvas');
  cv.width = PAD_L + PLOT_W + PAD_R; cv.height = PAD_T + PLOT_H + PAD_B;
  cv.style.left = (COL_LEFT[p.c] - PAD_L) + 'px';
  cv.style.top = (ROW_TOP[p.r] - PAD_T) + 'px';
  cv.style.width = cv.width + 'px'; cv.style.height = cv.height + 'px';
  wrap.appendChild(cv);
  const ds = [];
  for (let i = 0; i < 9; i++) {
    const band = i === 8 ? 'rgba(0,0,0,0.38)' : 'rgba(' + COLORS[i] + ',0.2)';
    ds.push({data:pts(p.hi[i]), fill:'+1', backgroundColor:band, borderColor:'rgba(0,0,0,0)', borderWidth:0,
             pointRadius:0, cubicInterpolationMode:'monotone', order:1000-2*i});
    ds.push({data:pts(p.lo[i]), fill:false, borderColor:'rgba(0,0,0,0)', borderWidth:0,
             pointRadius:0, cubicInterpolationMode:'monotone', order:999-2*i});
  }
  for (let i = 0; i < 9; i++) {
    const isAvg = i === 8;
    ds.push({isLine:true, label: SERIES[i] + ' (AUC = ' + p.auc[i].toFixed(2) + ')', data:pts(p.m[i]), fill:false,
             borderColor: isAvg ? '#000000' : 'rgba(' + COLORS[i] + ',0.85)', borderWidth: isAvg ? 6 : 3.5,
             pointRadius:0, cubicInterpolationMode:'monotone', order:100-i, borderCapStyle:'butt'});
  }
  const tickFont = {family:FONT, size:24.5};
  new Chart(cv, {
    type:'line',
    data:{datasets:ds},
    options:{
      responsive:false, animation:false, devicePixelRatio:1, events:[],
      layout:{padding:{top:PAD_T, right:PAD_R, left:0, bottom:0}},
      plugins:{legend:{display:false}, tooltip:{enabled:false}, title:{display:false},
               filler:{propagate:false}, decor:{title:p.title, leg:p.leg}},
      scales:{
        x:{type:'linear', min:-0.05, max:1.05,
           afterBuildTicks:s => { s.ticks = X_TICKS.map(v => ({value:v})); },
           afterFit:s => { s.height = PAD_B; },
           ticks:{callback:v => Number(v).toFixed(1), font:tickFont, color:'#000', padding:9, maxRotation:0, autoSkip:false},
           grid:{color:'#b0b0b0', lineWidth:1.8, tickLength:9, tickColor:'#000', tickWidth:2},
           border:{display:false},
           title:{display:true, text:'Threshold', font:tickFont, color:'#000', padding:0}},
        y:{type:'linear', min:p.yr[0], max:p.yr[1],
           afterBuildTicks:s => { s.ticks = p.yt.map(v => ({value:v})); },
           afterFit:s => { s.width = PAD_L; },
           ticks:{callback:v => Number(v).toFixed(1), font:tickFont, color:'#000', padding:9, autoSkip:false},
           grid:{color:'#b0b0b0', lineWidth:1.8, tickLength:9, tickColor:'#000', tickWidth:2},
           border:{display:false},
           title:{display:true, text:p.yl, font:tickFont, color:'#000', padding:0}}
      }
    },
    plugins:[decor]
  });
});
</script></body></html>
